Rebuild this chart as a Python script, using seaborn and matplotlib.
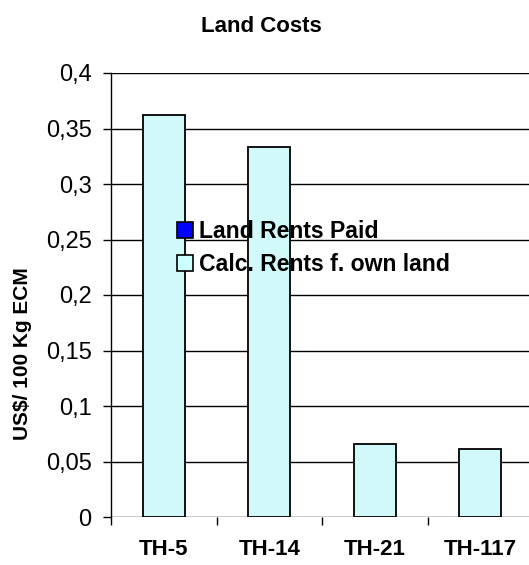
import matplotlib
matplotlib.use("Agg")
import matplotlib.pyplot as plt
from matplotlib.patches import Patch
import seaborn as sns
import pandas as pd
import numpy as np

# Land cost components per farm, US$ per 100 kg ECM
farms = ["TH-5", "TH-14", "TH-21", "TH-117"]
land_rents_paid = [0.0, 0.0, 0.0, 0.0]
calc_rents_own = [0.362, 0.333, 0.066, 0.061]
series_names = ["Land Rents Paid", "Calc. Rents f. own land"]
series_colors = ["#0000FF", "#CCFFFF"]
y_ticks = [0, 0.05, 0.1, 0.15, 0.2, 0.25, 0.3, 0.35, 0.4]
y_tick_labels = ["0", "0,05", "0,1", "0,15", "0,2", "0,25", "0,3", "0,35", "0,4"]

sns.set_theme(style="white", rc={"text.color": "black", "axes.labelcolor": "black",
                                 "xtick.color": "black", "ytick.color": "black"})
plt.rcParams["font.family"] = ["Liberation Sans", "DejaVu Sans"]

df = pd.DataFrame({
    "farm": farms * 2,
    "series": [series_names[0]] * len(farms) + [series_names[1]] * len(farms),
    "value": land_rents_paid + [p + c for p, c in zip(land_rents_paid, calc_rents_own)],
})

fig = plt.figure(figsize=(5.29, 5.65), dpi=100)
ax = fig.add_axes([111 / 529, 48 / 565, 422 / 529, 444 / 565])

# stacked columns: draw the total first, then the paid part on top of it
top = df[df["series"] == series_names[1]]
base = df[df["series"] == series_names[0]]
sns.barplot(data=top, x="farm", y="value", order=farms, color=series_colors[1],
            edgecolor="black", linewidth=1.3, width=0.4, ax=ax, zorder=3)
sns.barplot(data=base, x="farm", y="value", order=farms, color=series_colors[0],
            edgecolor="black", linewidth=0, width=0.4, ax=ax, zorder=4)

ax.set_ylim(0, 0.4)
ax.set_xlim(-0.5, 3.5)
ax.set_yticks(y_ticks)
ax.set_yticklabels(y_tick_labels, fontsize=17)
ax.yaxis.grid(True, color="black", linewidth=1.0, zorder=0)
ax.set_axisbelow(True)

ax.set_xticks(range(len(farms)))
ax.set_xticklabels(farms, fontsize=16, fontweight="bold")
ax.set_xticks(np.arange(-0.5, len(farms), 1.0), minor=True)
ax.tick_params(axis="x", which="major", length=0, pad=16)
ax.tick_params(axis="x", which="minor", length=6, width=1, color="black",
               direction="out", bottom=True)
ax.tick_params(axis="y", length=6, width=1, color="black", direction="out",
               left=True, pad=8)

for side in ["top", "right", "bottom"]:
    ax.spines[side].set_visible(False)
ax.spines["left"].set_color("black")
ax.spines["left"].set_linewidth(1.0)

ax.set_xlabel("")
ax.set_ylabel("US$/ 100 Kg ECM", fontsize=15, fontweight="bold", color="black")
ax.yaxis.set_label_coords((32 - 111) / 422, (517 - 354) / 444)

handles = [Patch(facecolor=c, edgecolor="black", linewidth=1.2) for c in series_colors]
leg = ax.legend(handles, series_names, loc="center left",
                bbox_to_anchor=((177 - 111) / 422, (517 - 248) / 444),
                frameon=False, prop={"weight": "bold", "size": 16.6},
                handlelength=0.7, handleheight=0.7, handletextpad=0.25,
                labelspacing=0.42, borderaxespad=0, borderpad=0)
for t in leg.get_texts():
    t.set_color("black")
leg.set_zorder(10)

fig.text(261 / 529, 1 - 27 / 565, "Land Costs", ha="center", va="center",
         fontsize=16, fontweight="bold", color="black")

fig.savefig("out.png", dpi=100)
